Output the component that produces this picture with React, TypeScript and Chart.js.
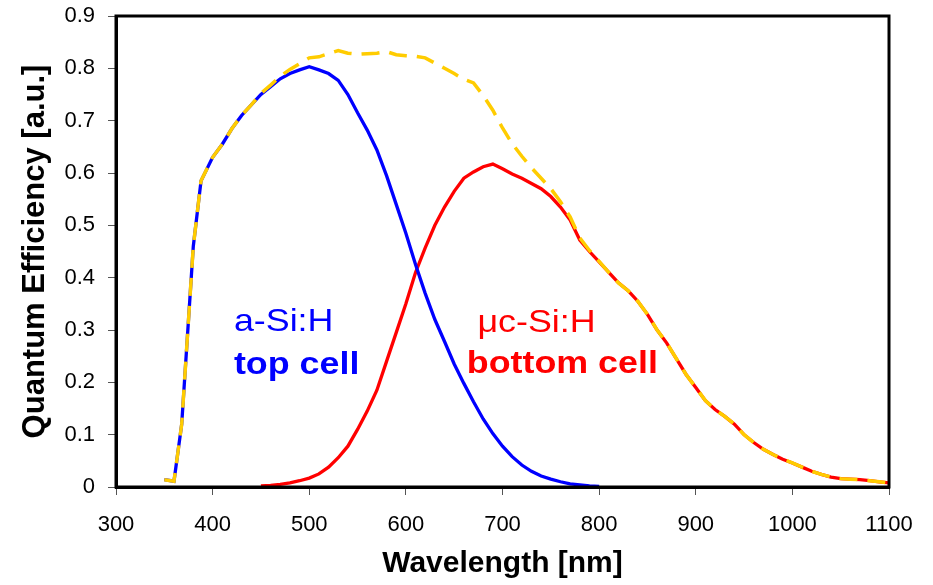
import React, { useEffect, useRef } from 'react';
import { Chart, registerables } from 'chart.js';

Chart.register(...registerables);

// ---- Axis ticks ----
const xTickValues = [300, 400, 500, 600, 700, 800, 900, 1000, 1100];
const xTickLabels = ['300', '400', '500', '600', '700', '800', '900', '1000', '1100'];
const yTickValues = [0, 0.1, 0.2, 0.3, 0.4, 0.5, 0.6, 0.7, 0.8, 0.9];
const yTickLabels = ['0', '0.1', '0.2', '0.3', '0.4', '0.5', '0.6', '0.7', '0.8', '0.9'];

// ---- a-Si:H top cell (blue) ----
const topWavelength = [350, 360, 368, 380, 388, 400, 410, 420, 430, 440, 450, 460, 470, 480, 490, 500, 510, 520, 530, 540, 550, 560, 570, 580, 590, 600, 610, 620, 630, 640, 650, 660, 670, 680, 690, 700, 710, 720, 730, 740, 750, 760, 770, 780, 790, 800];
const topQE = [0.014, 0.011, 0.12, 0.46, 0.585, 0.63, 0.655, 0.685, 0.71, 0.73, 0.75, 0.765, 0.78, 0.79, 0.797, 0.803, 0.797, 0.79, 0.777, 0.75, 0.715, 0.682, 0.644, 0.595, 0.54, 0.485, 0.425, 0.37, 0.32, 0.278, 0.235, 0.198, 0.163, 0.13, 0.102, 0.078, 0.058, 0.042, 0.03, 0.021, 0.015, 0.01, 0.006, 0.004, 0.002, 0.001];

// ---- µc-Si:H bottom cell (red) ----
const bottomWavelength = [450, 460, 470, 480, 490, 500, 510, 520, 530, 540, 550, 560, 570, 580, 590, 600, 610, 620, 630, 640, 650, 660, 670, 680, 690, 700, 710, 720, 730, 740, 750, 760, 770, 780, 790, 800, 810, 820, 830, 840, 850, 860, 870, 880, 890, 900, 910, 920, 930, 940, 950, 960, 970, 980, 990, 1000, 1010, 1020, 1030, 1040, 1050, 1060, 1070, 1080, 1090, 1100];
const bottomQE = [0.002, 0.003, 0.005, 0.008, 0.012, 0.017, 0.025, 0.038, 0.056, 0.078, 0.11, 0.145, 0.185, 0.24, 0.295, 0.35, 0.41, 0.457, 0.5, 0.535, 0.565, 0.59, 0.602, 0.612, 0.617, 0.608, 0.598, 0.59, 0.58, 0.57, 0.555, 0.535, 0.51, 0.472, 0.45, 0.43, 0.41, 0.39, 0.375, 0.355, 0.33, 0.3, 0.275, 0.245, 0.215, 0.19, 0.165, 0.148, 0.135, 0.12, 0.1, 0.085, 0.072, 0.062, 0.053, 0.046, 0.038, 0.03, 0.024, 0.019, 0.016, 0.015, 0.014, 0.012, 0.01, 0.008];

// ---- Total (yellow dashed) ----
const totalWavelength = [350, 360, 368, 380, 388, 400, 410, 420, 430, 440, 450, 460, 470, 480, 490, 500, 510, 520, 530, 540, 550, 560, 570, 580, 590, 600, 610, 620, 630, 640, 650, 660, 670, 680, 690, 700, 710, 720, 730, 740, 750, 760, 770, 780, 790, 800, 810, 820, 830, 840, 850, 860, 870, 880, 890, 900, 910, 920, 930, 940, 950, 960, 970, 980, 990, 1000, 1010, 1020, 1030, 1040, 1050, 1060, 1070, 1080, 1090, 1100];
const totalQE = [0.014, 0.011, 0.12, 0.46, 0.585, 0.63, 0.655, 0.685, 0.71, 0.73, 0.752, 0.768, 0.785, 0.798, 0.809, 0.82, 0.822, 0.828, 0.834, 0.829, 0.827, 0.828, 0.829, 0.832, 0.826, 0.824, 0.823, 0.82, 0.81, 0.8, 0.79, 0.779, 0.772, 0.748, 0.72, 0.686, 0.656, 0.632, 0.61, 0.59, 0.57, 0.545, 0.516, 0.476, 0.452, 0.431, 0.41, 0.39, 0.375, 0.355, 0.33, 0.3, 0.275, 0.245, 0.215, 0.19, 0.165, 0.148, 0.135, 0.12, 0.1, 0.085, 0.072, 0.062, 0.053, 0.046, 0.038, 0.03, 0.024, 0.019, 0.016, 0.015, 0.014, 0.012, 0.01, 0.008];

// ---- In-chart labels (data coordinates) ----
const labelTexts = ['a-Si:H', 'top cell', '\u03bcc-Si:H', 'bottom cell'];
const labelWavelength = [422, 422, 674, 663];
const labelQE = [0.298, 0.216, 0.296, 0.218];
const labelBold = [false, true, false, true];
const labelColors = ['#0000ff', '#0000ff', '#ff0000', '#ff0000'];

const FONT = '"Liberation Sans", Arial, Helvetica, sans-serif';

const toPoints = (xs: number[], ys: number[]) => xs.map((x, i) => ({ x, y: ys[i] }));

const overlayPlugin = {
  id: 'overlay',
  afterDatasetsDraw(chart: any) {
    const { ctx, scales, chartArea } = chart;
    const xs = scales.x;
    const ys = scales.y;
    ctx.save();
    labelTexts.forEach((t, i) => {
      ctx.font = `${labelBold[i] ? 'bold ' : ''}32px ${FONT}`;
      ctx.fillStyle = labelColors[i];
      ctx.textAlign = 'left';
      ctx.textBaseline = 'alphabetic';
      const px = xs.getPixelForValue(labelWavelength[i]);
      const py = ys.getPixelForValue(labelQE[i]);
      ctx.save();
      ctx.translate(px, py);
      ctx.scale(1.12, 1);
      ctx.fillText(t, 0, 0);
      ctx.restore();
    });
    ctx.strokeStyle = '#000';
    ctx.lineWidth = 3;
    ctx.strokeRect(chartArea.left, chartArea.top, chartArea.right - chartArea.left, chartArea.bottom - chartArea.top);
    ctx.restore();
  },
};

export default function App() {
  const canvasRef = useRef<HTMLCanvasElement>(null);

  useEffect(() => {
    if (!canvasRef.current) return;
    const chart = new Chart(canvasRef.current, {
      type: 'line',
      data: {
        datasets: [
          {
            label: 'Total',
            data: toPoints(totalWavelength, totalQE),
            borderColor: '#ffcc00',
            borderWidth: 3.5,
            borderDash: [18, 10],
            pointRadius: 0,
            tension: 0,
            fill: false,
          },
          {
            label: 'a-Si:H top cell',
            data: toPoints(topWavelength, topQE),
            borderColor: '#0000ff',
            borderWidth: 3.3,
            pointRadius: 0,
            tension: 0,
            fill: false,
          },
          {
            label: 'µc-Si:H bottom cell',
            data: toPoints(bottomWavelength, bottomQE),
            borderColor: '#ff0000',
            borderWidth: 3.3,
            pointRadius: 0,
            tension: 0,
            fill: false,
          },
        ],
      },
      options: {
        animation: false,
        responsive: true,
        maintainAspectRatio: false,
        layout: { padding: { left: 0, right: 44, top: 16, bottom: 0 } },
        plugins: {
          legend: { display: false },
          tooltip: { enabled: false },
        },
        scales: {
          x: {
            type: 'linear',
            min: 300,
            max: 1100,
            afterBuildTicks: (scale: any) => {
              scale.ticks = xTickValues.map((v) => ({ value: v }));
            },
            afterFit: (scale: any) => {
              scale.height = 98;
              scale.paddingLeft = 0;
              scale.paddingRight = 0;
            },
            grid: { drawOnChartArea: false, drawTicks: true, tickLength: 8, color: '#555', lineWidth: 1 },
            border: { display: true, color: '#000', width: 3 },
            ticks: {
              color: '#000',
              font: { family: FONT, size: 22 },
              padding: 17,
              maxRotation: 0,
              autoSkip: false,
              callback: (_v: any, i: number) => xTickLabels[i],
            },
            title: {
              display: true,
              text: 'Wavelength [nm]',
              color: '#000',
              font: { family: FONT, size: 30, weight: 'bold' },
              padding: { top: 0, bottom: 3 },
            },
          },
          y: {
            type: 'linear',
            min: 0,
            max: 0.9,
            afterBuildTicks: (scale: any) => {
              scale.ticks = yTickValues.map((v) => ({ value: v }));
            },
            afterFit: (scale: any) => {
              scale.width = 116;
              scale.paddingTop = 0;
              scale.paddingBottom = 0;
            },
            grid: { drawOnChartArea: false, drawTicks: true, tickLength: 8, color: '#555', lineWidth: 1 },
            border: { display: true, color: '#000', width: 3 },
            ticks: {
              color: '#000',
              font: { family: FONT, size: 22 },
              padding: 13,
              autoSkip: false,
              callback: (_v: any, i: number) => yTickLabels[i],
            },
            title: {
              display: true,
              text: 'Quantum Efficiency [a.u.]',
              color: '#000',
              font: { family: FONT, size: 31, weight: 'bold' },
              padding: { top: 17, bottom: 0 },
            },
          },
        },
      },
      plugins: [overlayPlugin],
    });
    return () => chart.destroy();
  }, []);

  return (
    <div style={{ position: 'fixed', left: 0, top: 0, width: 933, height: 585, background: '#fff' }}>
      <canvas ref={canvasRef} />
    </div>
  );
}
